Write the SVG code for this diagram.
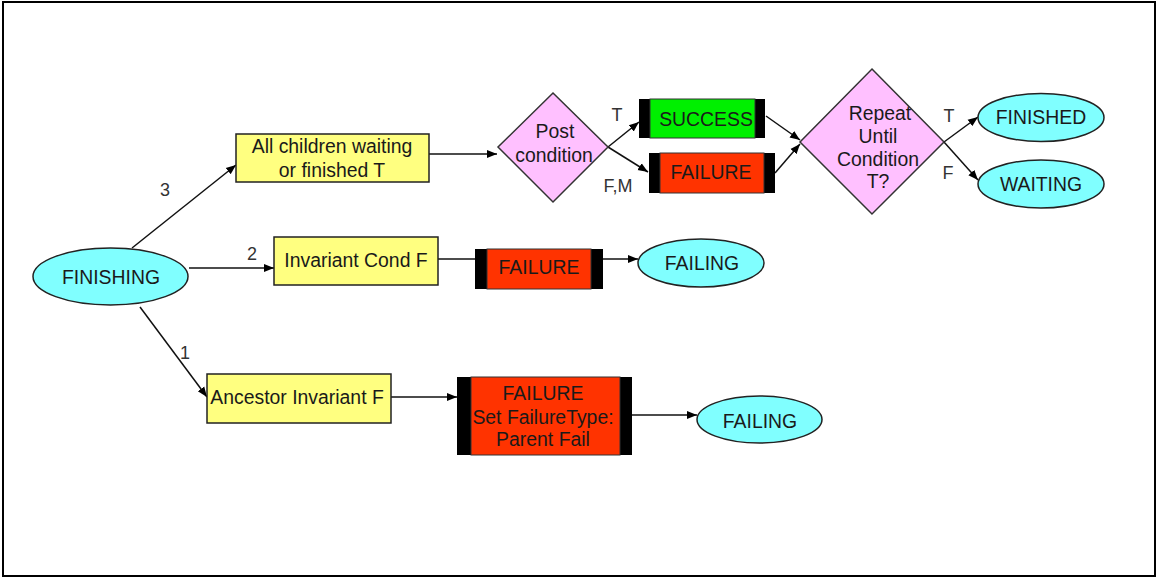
<svg xmlns="http://www.w3.org/2000/svg" width="1158" height="579" viewBox="0 0 1158 579">
  <style>
    text { font-family: "Liberation Sans", Arial, sans-serif; font-size: 19.4px; fill: #1a1a1a; text-anchor: middle; }
    .lbl { fill: #333; font-size: 18px; }
    .box { fill: #ffff80; stroke: #222; stroke-width: 1.5; }
    .oval { fill: #80ffff; stroke: #222; stroke-width: 1.5; }
    .dia { fill: #ffc0ff; stroke: #333; stroke-width: 1.5; }
    .ok { fill: #00f000; stroke: #333; stroke-width: 1; }
    .bad { fill: #ff3300; stroke: #333; stroke-width: 1; }
    .bar { fill: #000; }
    .edge { fill: none; stroke: #111; stroke-width: 1.5; }
  </style>
  <defs>
    <marker id="arr" viewBox="0 0 10 10" refX="10" refY="5" markerWidth="10" markerHeight="10" markerUnits="userSpaceOnUse" orient="auto">
      <path d="M0,1 L10,5 L0,9 Z" fill="#000"/>
    </marker>
  </defs>

  <rect x="0" y="0" width="1158" height="579" fill="#fff"/>
  <rect x="3" y="2" width="1152" height="574" fill="none" stroke="#000" stroke-width="2"/>

  <g id="connectors">
    <line class="edge" x1="132" y1="248" x2="236" y2="165" marker-end="url(#arr)"/>
    <line class="edge" x1="189" y1="268" x2="274" y2="268" marker-end="url(#arr)"/>
    <line class="edge" x1="140" y1="307" x2="207" y2="397" marker-end="url(#arr)"/>
    <line class="edge" x1="429" y1="154" x2="497" y2="154" marker-end="url(#arr)"/>
    <line class="edge" x1="608" y1="147" x2="639" y2="122" marker-end="url(#arr)"/>
    <line class="edge" x1="608" y1="147" x2="648" y2="172" marker-end="url(#arr)"/>
    <line class="edge" x1="766" y1="116" x2="800" y2="140" marker-end="url(#arr)"/>
    <line class="edge" x1="775" y1="173" x2="800" y2="144" marker-end="url(#arr)"/>
    <line class="edge" x1="944" y1="142" x2="978" y2="117" marker-end="url(#arr)"/>
    <line class="edge" x1="944" y1="142" x2="978" y2="180" marker-end="url(#arr)"/>
    <line class="edge" x1="438" y1="259" x2="475" y2="259"/>
    <line class="edge" x1="603" y1="259" x2="638" y2="259" marker-end="url(#arr)"/>
    <line class="edge" x1="391" y1="397" x2="457" y2="397" marker-end="url(#arr)"/>
    <line class="edge" x1="632" y1="415" x2="697" y2="415" marker-end="url(#arr)"/>
    <text class="lbl" x="165" y="196">3</text>
    <text class="lbl" x="252" y="260">2</text>
    <text class="lbl" x="185" y="359">1</text>
    <text class="lbl" x="617" y="121">T</text>
    <text class="lbl" x="618" y="192">F,M</text>
    <text class="lbl" x="949" y="122">T</text>
    <text class="lbl" x="948" y="179">F</text>
  </g>

  <g id="finishing">
    <ellipse class="oval" cx="110.5" cy="276.5" rx="77.5" ry="28.5"/>
    <text x="111" y="284">FINISHING</text>
  </g>

  <g id="all-children">
    <rect class="box" x="236" y="134" width="193" height="48"/>
    <text x="332" y="153">All children waiting</text>
    <text x="332" y="177">or finished T</text>
  </g>

  <g id="invariant-cond">
    <rect class="box" x="274" y="237" width="164" height="48"/>
    <text x="356" y="267">Invariant Cond F</text>
  </g>

  <g id="ancestor-invariant">
    <rect class="box" x="207" y="374" width="184" height="49"/>
    <text x="297" y="404">Ancestor Invariant F</text>
  </g>

  <g id="post-condition">
    <polygon class="dia" points="553,93 608,147 553,202 498,147"/>
    <text x="555" y="138">Post</text>
    <text x="554" y="162">condition</text>
  </g>

  <g id="success">
    <rect class="bar" x="639" y="99" width="126" height="39"/>
    <rect class="ok" x="650" y="99" width="105" height="39"/>
    <text x="706" y="126">SUCCESS</text>
  </g>

  <g id="failure-post">
    <rect class="bar" x="649" y="153" width="126" height="40"/>
    <rect class="bad" x="660" y="153" width="104" height="40"/>
    <text x="711" y="179">FAILURE</text>
  </g>

  <g id="repeat-until">
    <polygon class="dia" points="872,69 944,142 872,214 800,142"/>
    <text x="880" y="120">Repeat</text>
    <text x="878" y="143">Until</text>
    <text x="878" y="166">Condition</text>
    <text x="878" y="188">T?</text>
  </g>

  <g id="finished">
    <ellipse class="oval" cx="1041" cy="117.5" rx="63" ry="24"/>
    <text x="1041" y="124">FINISHED</text>
  </g>

  <g id="waiting">
    <ellipse class="oval" cx="1041" cy="184" rx="63" ry="24"/>
    <text x="1041" y="191">WAITING</text>
  </g>

  <g id="failure-invariant">
    <rect class="bar" x="475" y="249" width="128" height="40"/>
    <rect class="bad" x="487" y="249" width="104" height="40"/>
    <text x="539" y="274">FAILURE</text>
  </g>

  <g id="failing-invariant">
    <ellipse class="oval" cx="701" cy="263" rx="63" ry="24"/>
    <text x="702" y="270">FAILING</text>
  </g>

  <g id="failure-parent">
    <rect class="bar" x="457" y="377" width="175" height="78"/>
    <rect class="bad" x="471" y="377" width="149" height="78"/>
    <text x="543" y="400">FAILURE</text>
    <text x="543" y="424">Set FailureType:</text>
    <text x="543" y="446">Parent Fail</text>
  </g>

  <g id="failing-parent">
    <ellipse class="oval" cx="759.5" cy="419.5" rx="62.5" ry="23.5"/>
    <text x="760" y="428">FAILING</text>
  </g>
</svg>
